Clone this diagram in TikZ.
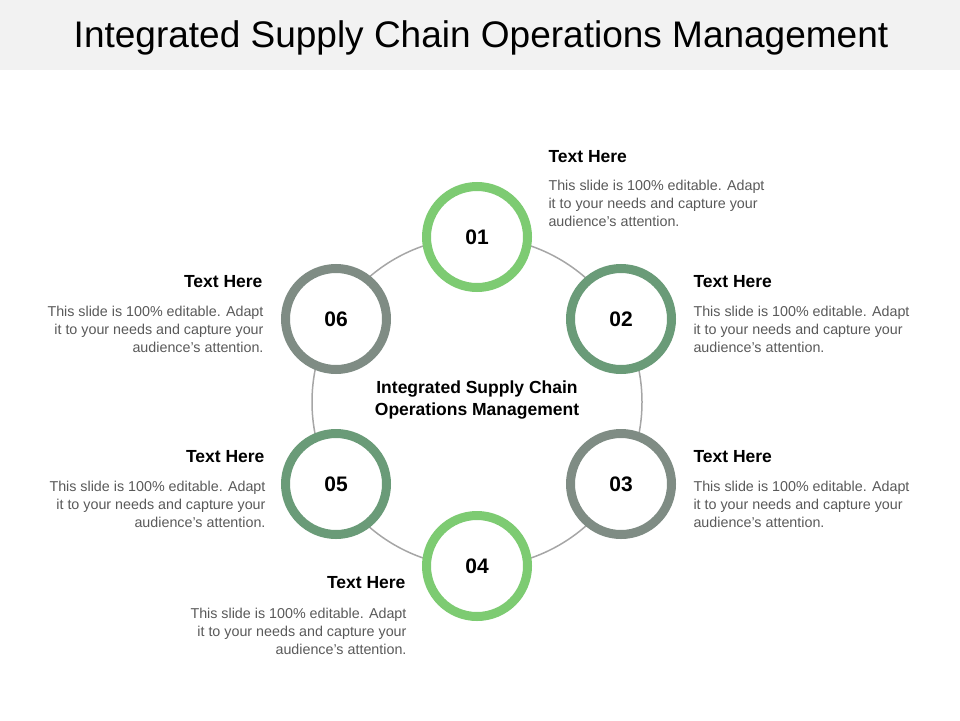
\documentclass[tikz,border=0pt]{standalone}
\usepackage{fontspec}
\setmainfont{Liberation Sans}
\definecolor{gA}{HTML}{7DCB72}
\definecolor{gB}{HTML}{6A9B78}
\definecolor{gC}{HTML}{7F8C84}
\definecolor{bodyc}{HTML}{595959}
\begin{document}
\begin{tikzpicture}[x=1pt,y=-1pt,
  ring/.style={circle,draw=#1,line width=9pt,minimum size=101pt,fill=white,font=\fontsize{21}{24}\selectfont\bfseries},
  hd/.style={font=\fontsize{17.5}{22}\selectfont\bfseries},
  bd/.style={font=\fontsize{14.3}{17.8}\selectfont,text=bodyc}]
\useasboundingbox (0,0) rectangle (960,720);
\fill[black!5] (0,0) rectangle (960,70);
\node[font=\fontsize{37}{44}\selectfont] (title) at (481,38) {Integrated Supply Chain Operations Management};
\coordinate (c) at (477,402);
\draw[black!35,line width=1.5pt] (c) circle (165);
\node[ring=gA] (n1) at (477,237) {01};
\node[ring=gB] (n2) at (621,319) {02};
\node[ring=gC] (n3) at (621,484) {03};
\node[ring=gA] (n4) at (477,566) {04};
\node[ring=gB] (n5) at (336,484) {05};
\node[ring=gC] (n6) at (336,319) {06};
\node[hd,align=center] (ct) at (477,400) {Integrated Supply Chain\\Operations Management};
% right side
\node[hd,anchor=west] (h1) at (545,157) {Text Here};
\node[bd,anchor=north west,align=left] (b1) at (545,177) {This slide is 100\% editable. Adapt\\it to your needs and capture your\\audience's attention.};
\node[hd,anchor=west] (h2) at (690,282) {Text Here};
\node[bd,anchor=north west,align=left] (b2) at (690,303) {This slide is 100\% editable. Adapt\\it to your needs and capture your\\audience's attention.};
\node[hd,anchor=west] (h3) at (690,457) {Text Here};
\node[bd,anchor=north west,align=left] (b3) at (690,478) {This slide is 100\% editable. Adapt\\it to your needs and capture your\\audience's attention.};
% left side
\node[hd,anchor=east] (h6) at (266,282) {Text Here};
\node[bd,anchor=north east,align=right] (b6) at (267,303) {This slide is 100\% editable. Adapt\\it to your needs and capture your\\audience's attention.};
\node[hd,anchor=east] (h5) at (268,457) {Text Here};
\node[bd,anchor=north east,align=right] (b5) at (269,478) {This slide is 100\% editable. Adapt\\it to your needs and capture your\\audience's attention.};
\node[hd,anchor=east] (h4) at (409,583) {Text Here};
\node[bd,anchor=north east,align=right] (b4) at (410,605) {This slide is 100\% editable. Adapt\\it to your needs and capture your\\audience's attention.};
\end{tikzpicture}
\end{document}
